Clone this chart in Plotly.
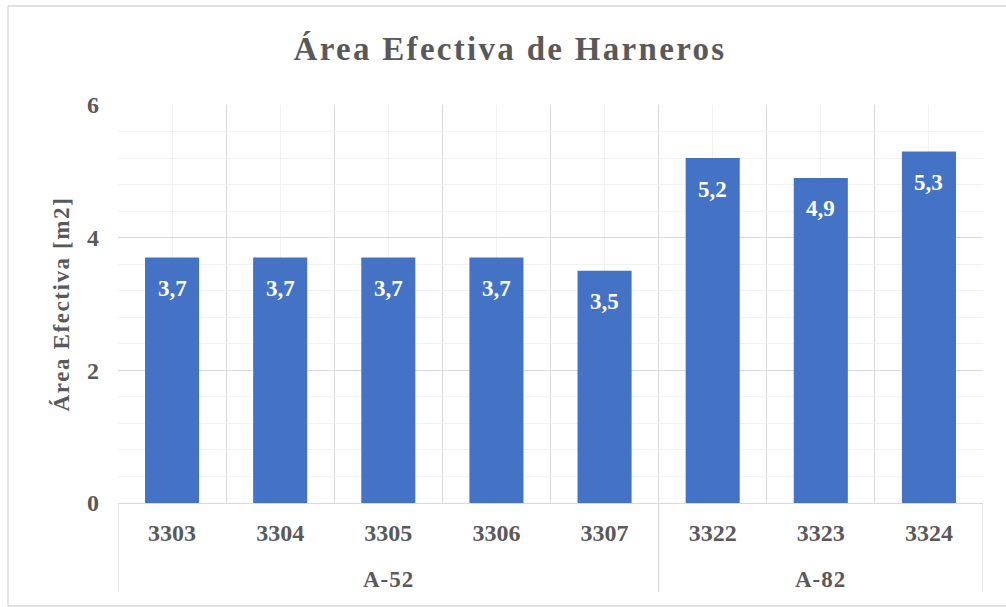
import plotly.graph_objects as go

categories = ["3303", "3304", "3305", "3306", "3307", "3322", "3323", "3324"]
groups = ["A-52", "A-52", "A-52", "A-52", "A-52", "A-82", "A-82", "A-82"]
values = [3.7, 3.7, 3.7, 3.7, 3.5, 5.2, 4.9, 5.3]
y_ticks = [0, 2, 4, 6]

GRAY = "#595959"
FONT = "Liberation Serif"
BAR = "#4472C4"

W, H = 1006, 607
L, R, T, B = 118, 23, 105, 104
pw, ph = W - L - R, H - T - B

def px_x(p):
    return (p - L) / pw

def px_y(p):
    return (H - B - p) / ph

xs = list(range(len(categories)))
labels = [f"{v:.1f}".replace(".", ",") for v in values]

fig = go.Figure(go.Bar(x=xs, y=values, width=0.5, marker=dict(color=BAR, line=dict(width=0)),
                       hoverinfo="skip"))

annotations = []
for x, v, t in zip(xs, values, labels):
    annotations.append(dict(x=x, y=v, xref="x", yref="y", text=f"<b>{t}</b>", showarrow=False,
                            yshift=-31, yanchor="middle",
                            font=dict(family=FONT, size=23, color="white")))

# group labels
uniq = []
for g in groups:
    if g not in uniq:
        uniq.append(g)
for g in uniq:
    idx = [i for i, gg in enumerate(groups) if gg == g]
    cx = (idx[0] + idx[-1]) / 2
    annotations.append(dict(x=cx, y=px_y(579), xref="x", yref="paper",
                            text=f"<b><span style='letter-spacing:1px'>{g}</span></b>",
                            showarrow=False, yanchor="middle",
                            font=dict(family=FONT, size=23, color=GRAY)))

shapes = []
bounds = [-0.5]
for i in range(1, len(groups)):
    if groups[i] != groups[i - 1]:
        bounds.append(i - 0.5)
bounds.append(len(groups) - 0.5)
for b in bounds:
    shapes.append(dict(type="line", xref="x", yref="paper", x0=b, x1=b, y0=0, y1=px_y(592),
                       line=dict(color="#d9d9d9", width=1.3)))
# chart border (left, top, bottom; right edge lies outside the picture)
border = dict(color="#d9d9d9", width=1.3)
shapes.append(dict(type="line", xref="paper", yref="paper", x0=px_x(8), x1=px_x(8),
                   y0=px_y(606), y1=px_y(6), line=border))
shapes.append(dict(type="line", xref="paper", yref="paper", x0=px_x(8), x1=px_x(1006),
                   y0=px_y(6), y1=px_y(6), line=border))
shapes.append(dict(type="line", xref="paper", yref="paper", x0=px_x(8), x1=px_x(1006),
                   y0=px_y(606), y1=px_y(606), line=border))

fig.update_layout(
    width=W, height=H,
    margin=dict(l=L, r=R, t=T, b=B),
    paper_bgcolor="white", plot_bgcolor="white",
    showlegend=False,
    title=dict(text="<b><span style='letter-spacing:2.3px'>Área Efectiva de Harneros</span></b>",
               x=px_x(510), xref="paper", xanchor="center",
               y=1 - 48 / H, yanchor="middle", yref="container",
               font=dict(family=FONT, size=33, color=GRAY)),
    annotations=annotations,
    shapes=shapes,
    bargap=0.5,
)

fig.update_xaxes(
    range=[-0.5, len(categories) - 0.5],
    tickvals=xs, ticktext=[f"<b>{c}</b>" for c in categories],
    tickfont=dict(family=FONT, size=24, color=GRAY),
    showgrid=True, gridcolor="#f2f2f2", gridwidth=1,
    minor=dict(tickvals=[i - 0.5 for i in range(len(categories) + 1)], showgrid=True,
               gridcolor="#d9d9d9", gridwidth=1.3, ticklen=0),
    ticks="", ticklabelstandoff=8,
    showline=True, linecolor="#d9d9d9", linewidth=1.3,
    zeroline=False, fixedrange=True,
)
fig.update_yaxes(
    range=[0, 6], tickvals=y_ticks, ticktext=[f"<b>{t}</b>" for t in y_ticks],
    tickfont=dict(family=FONT, size=24, color=GRAY),
    showgrid=True, gridcolor="#d9d9d9", gridwidth=1.3,
    minor=dict(dtick=0.4, showgrid=True, gridcolor="#f2f2f2", gridwidth=1),
    ticks="", ticklabelstandoff=18,
    zeroline=False, showline=False,
    title=dict(text="<b><span style='letter-spacing:1.6px'>Área Efectiva [m2]</span></b>",
               font=dict(family=FONT, size=23, color=GRAY), standoff=10),
    fixedrange=True,
)

fig.write_html("out.html", config={"displayModeBar": False},
               post_script="document.body.style.margin='0px';")
